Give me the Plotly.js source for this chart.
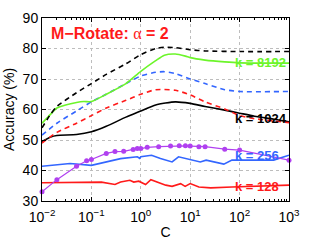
<!DOCTYPE html>
<html>
<head>
<meta charset="utf-8">
<script src="https://cdn.plot.ly/plotly-3.0.1.min.js"></script>
<style>html,body{margin:0;padding:0;background:#fff;}#chart{width:319px;height:240px;}</style>
</head>
<body>
<div id="chart"></div>
<script>
// Dashed series (smooth)
var cBlackDash = [0.01, 0.015, 0.02, 0.05, 0.1, 0.2, 0.5, 1, 2, 3, 5, 10, 20, 100, 1000];
var vBlackDash = [54, 58.5, 61, 65.5, 68.5, 71.5, 75, 78, 80, 80.4, 80.3, 79.6, 79.2, 79, 79];

var cBlueDash = [0.01, 0.02, 0.05, 0.1, 0.2, 0.5, 1, 2, 3, 5, 10, 20, 50, 100, 1000];
var vBlueDash = [51.6, 55.5, 59.5, 62.5, 65, 68.5, 71, 72.2, 72.4, 71.8, 70, 68.5, 66.5, 65.9, 65.9];

var cRedDash = [0.01, 0.02, 0.05, 0.1, 0.2, 0.5, 1, 2, 5, 10, 20, 50, 100, 200, 500, 1000];
var vRedDash = [49, 52.5, 55.5, 58, 60.5, 63, 65, 66.5, 66.3, 64.8, 62.5, 60.2, 58, 57, 56.2, 55.7];

// Solid series
var cGreen = [0.01, 0.015, 0.02, 0.03, 0.05, 0.07, 0.1, 0.2, 0.5, 1, 2, 3, 5, 8, 10, 20, 50, 100, 1000];
var vGreen = [55.5, 58.5, 60.5, 61.5, 62.3, 62.6, 62.6, 65, 68.5, 72.5, 76, 77.8, 78.2, 77.5, 77, 76.2, 75.6, 75.3, 75.2];

var cBlack = [0.01, 0.015, 0.02, 0.05, 0.1, 0.2, 0.5, 1, 2, 5, 10, 20, 50, 100, 200, 500, 1000];
var vBlack = [49.5, 51, 51.5, 51.8, 52.7, 54.5, 57.5, 59.5, 61.5, 62.5, 62, 61, 59.8, 58.8, 57.8, 56.8, 56];

var cPurple = [0.01, 0.02, 0.05, 0.08, 0.1, 0.2, 0.3, 0.45, 0.7, 0.85, 1, 1.35, 2.3, 4, 6, 8, 10, 15, 20, 50, 100, 1000];
var vPurple = [33, 37, 41.4, 43.2, 43.6, 45.6, 46.2, 46.3, 46.9, 47.2, 47.2, 47.6, 47.8, 48, 48.1, 48.1, 48, 47.8, 47.8, 47, 46.7, 43.4];

var cBlue = [0.01, 0.037, 0.1, 0.39, 0.85, 0.95, 1.0, 1.65, 2.5, 3.2, 4.3, 5.8, 11, 16, 21, 48, 70, 490, 1000];
var vBlue = [41.4, 42.3, 41.7, 43.9, 44.5, 44.0, 44.5, 45, 43.9, 43.4, 42.8, 44.5, 43.4, 42.8, 43.4, 42.1, 43.4, 43.4, 45];

var cRed = [0.01, 0.1, 0.16, 0.3, 0.39, 0.6, 0.72, 0.91, 1.25, 1.6, 3.2, 4.3, 6.4, 7.9, 10, 15, 26, 70, 1000];
var vRed = [36, 36, 36.2, 35.4, 36.2, 36.8, 36.2, 36.5, 35.4, 37, 35.2, 34.8, 35.7, 34.8, 35.7, 34.6, 34.3, 34.6, 35.2];

var xTickVals = [0.01, 0.1, 1, 10, 100, 1000];
var xTickText = ['10<sup>−2</sup>', '10<sup>−1</sup>', '10<sup>0</sup>', '10<sup>1</sup>', '10<sup>2</sup>', '10<sup>3</sup>'];
var yTickVals = [30, 40, 50, 60, 70, 80, 90];

var GREEN = '#6cf52a', BLUE = '#3366ff', RED = '#ff1a1a', PURPLE = '#b040f0', BLACK = '#000000';
var dash = '5px,4px';

function ln(x, y, color, d, smooth) {
  return {x: x, y: y, type: 'scatter', mode: 'lines',
    line: {color: color, width: 1.6, dash: d || 'solid', shape: smooth ? 'spline' : 'linear', smoothing: 0.6},
    hoverinfo: 'skip', showlegend: false};
}

var traces = [
  ln(cRed, vRed, RED),
  ln(cBlue, vBlue, BLUE),
  {x: cPurple, y: vPurple, type: 'scatter', mode: 'lines+markers', cliponaxis: false,
   line: {color: PURPLE, width: 1.2}, marker: {color: PURPLE, size: 5}, showlegend: false},
  ln(cBlack, vBlack, BLACK, null, true),
  ln(cRedDash, vRedDash, RED, dash, true),
  ln(cBlueDash, vBlueDash, BLUE, dash, true),
  ln(cGreen, vGreen, GREEN, null, true),
  ln(cBlackDash, vBlackDash, BLACK, dash, true)
];

var FONT = 'Liberation Sans, Arial, Helvetica, sans-serif';
function lab(txt, y, color) {
  return {x: 1.86, y: y, xref: 'x', yref: 'y', text: txt, showarrow: false,
    xanchor: 'left', yanchor: 'middle',
    font: {family: FONT, size: 13, color: color, weight: 'bold'}};
}

var layout = {
  width: 319, height: 240,
  margin: {l: 42, r: 30, t: 18, b: 39},
  paper_bgcolor: '#fff', plot_bgcolor: '#fff',
  font: {family: FONT, size: 14, color: '#000'},
  xaxis: {
    type: 'log', range: [-2, 3],
    tickmode: 'array', tickvals: xTickVals, ticktext: xTickText,
    ticks: 'inside', ticklen: 4, tickcolor: '#000',
    showline: true, linecolor: '#000', linewidth: 1, mirror: 'ticks',
    showgrid: true, gridcolor: '#bdbdbd', griddash: 'dot', gridwidth: 1,
    zeroline: false, ticklabelstandoff: 3,
    minor: {ticks: 'inside', ticklen: 2, dtick: 'D1', tickcolor: '#000', showgrid: false},
    tickfont: {size: 14},
    title: {text: 'C', font: {size: 14}, standoff: 4}
  },
  yaxis: {
    range: [30, 90],
    tickmode: 'array', tickvals: yTickVals,
    ticks: 'inside', ticklen: 4, tickcolor: '#000',
    showline: true, linecolor: '#000', linewidth: 1, mirror: 'ticks',
    showgrid: true, gridcolor: '#bdbdbd', griddash: 'dot', gridwidth: 1,
    zeroline: false,
    tickfont: {size: 14},
    title: {text: 'Accuracy (%)', font: {size: 14}, standoff: 4}
  },
  annotations: [
    {x: 0.03, y: 0.97, xref: 'paper', yref: 'paper', showarrow: false,
     xanchor: 'left', yanchor: 'top',
     text: 'M−Rotate: <span style="font-family:Liberation Serif;font-weight:normal">α</span> = 2',
     font: {family: FONT, size: 16, color: RED, weight: 'bold'}},
    lab('k = 8192', 75.5, GREEN),
    lab('k = 1024', 57.2, BLACK),
    lab('k = 256', 44.8, BLUE),
    lab('k = 128', 34.7, RED)
  ]
};

Plotly.newPlot('chart', traces, layout, {staticPlot: true, displayModeBar: false});
</script>
</body>
</html>
